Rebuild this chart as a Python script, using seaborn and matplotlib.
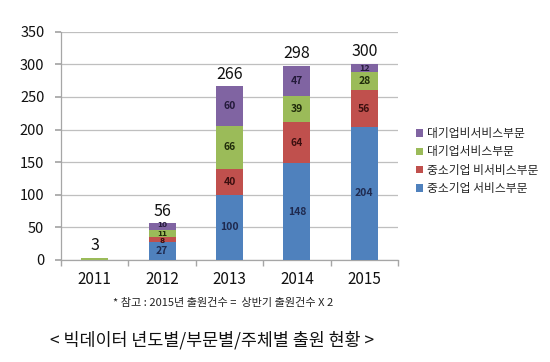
import matplotlib
matplotlib.use("Agg")
import matplotlib.pyplot as plt
import seaborn as sns
import numpy as np
import pandas as pd

years = ["2011", "2012", "2013", "2014", "2015"]
sme_service = [0, 27, 100, 148, 204]
sme_nonservice = [0, 8, 40, 64, 56]
large_service = [3, 11, 66, 39, 28]
large_nonservice = [0, 10, 60, 47, 12]
totals = [3, 56, 266, 298, 300]

series_names = ["중소기업 서비스부문", "중소기업 비서비스부문", "대기업서비스부문", "대기업비서비스부문"]
series_vals = [sme_service, sme_nonservice, large_service, large_nonservice]
colors = ["#4F81BD", "#C0504D", "#9BBB59", "#8064A2"]
label_colors = ["#1F2A4F", "#3B0F0F", "#1F2A0A", "#241A3A"]

sns.set_theme(style="white")
plt.rcParams['font.family'] = ['Noto Sans CJK KR', 'DejaVu Sans']

fig = plt.figure(figsize=(5.5, 3.62), dpi=100)
ax = fig.add_axes([0.111, 0.2818, 0.6126, 0.6306])

cum = np.cumsum(np.array(series_vals), axis=0)
for i in range(len(series_vals) - 1, -1, -1):
    df = pd.DataFrame({"year": years, "val": cum[i]})
    sns.barplot(data=df, x="year", y="val", color=colors[i], width=0.4,
                saturation=1, ax=ax, zorder=3, linewidth=0)

offsets = {1: -1.2, 2: 0.0, 3: 1.2}
for i, vals in enumerate(series_vals):
    base = cum[i] - np.array(vals)
    for j, v in enumerate(vals):
        if v >= 5:
            if j == 1 and v < 15:
                # 2012 thin segments: compact labels, slightly spread
                ax.annotate(str(v), (j, base[j] + v / 2), xytext=(0, offsets.get(i, 0.0)),
                            textcoords="offset points", ha="center", va="center",
                            fontsize=5.2, fontweight="bold", color=label_colors[i],
                            family="DejaVu Sans", zorder=5)
            else:
                fs = 6.5 if v < 15 else 7.5
                ax.text(j, base[j] + v / 2, str(v), ha="center", va="center",
                        fontsize=fs, fontweight="bold", color=label_colors[i], zorder=5)

for j, t in enumerate(totals):
    ax.text(j, t + 6, str(t), ha="center", va="bottom", fontsize=11.5,
            color="#111111", zorder=5)

ax.set_ylim(0, 350)
ax.set_xlim(-0.5, 4.5)
ax.set_yticks(range(0, 351, 50))
ax.yaxis.grid(True, color="#BFBFBF", linewidth=0.9, zorder=0)
ax.set_axisbelow(True)
ax.set_xlabel("")
ax.set_ylabel("")
for s in ["top", "right"]:
    ax.spines[s].set_visible(False)
for s in ["left", "bottom"]:
    ax.spines[s].set_color("#A6A6A6")
    ax.spines[s].set_linewidth(0.9)
ax.tick_params(axis="y", labelsize=10.5, colors="#111111", length=4, color="#A6A6A6", pad=8, left=True)
ax.tick_params(axis="x", labelsize=11, colors="#111111", length=0, pad=8)
ax.set_xticks(range(len(years)))
ax.set_xticks(np.arange(-0.5, 5, 1), minor=True)
ax.tick_params(axis="x", which="minor", length=4, color="#A6A6A6", bottom=True)

from matplotlib.patches import Patch
leg_handles = [Patch(facecolor=colors[i], edgecolor="none") for i in range(3, -1, -1)]
leg_labels = [series_names[i] for i in range(3, -1, -1)]
fig.legend(leg_handles, leg_labels, loc="upper left", bbox_to_anchor=(0.745, 0.665),
           frameon=False, fontsize=8.5, handlelength=0.6, handleheight=0.6,
           handletextpad=0.4, labelspacing=0.45, borderpad=0)

fig.text(0.405, 0.163, "* 참고 : 2015년 출원건수 =  상반기 출원건수 X 2", ha="center",
         va="center", fontsize=8, color="#222222")
fig.text(0.386, 0.06, "< 빅데이터 년도별/부문별/주체별 출원 현황 >", ha="center",
         va="center", fontsize=12.5, color="#111111")

fig.savefig("out.png", dpi=100, facecolor="white")
